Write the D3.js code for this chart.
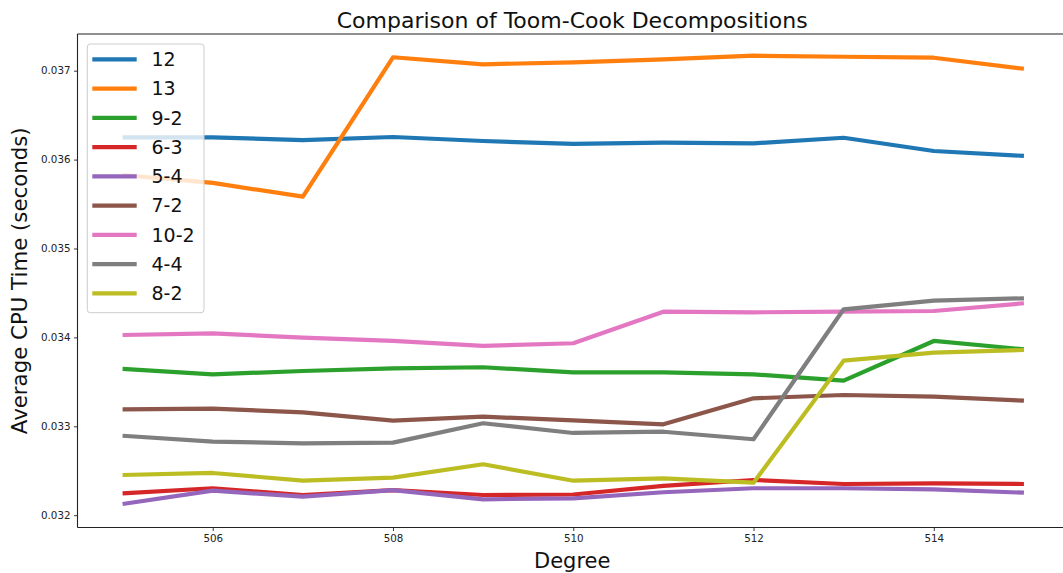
<!DOCTYPE html>
<html><head><meta charset="utf-8">
<script src="https://cdn.jsdelivr.net/npm/d3@7"></script>
<style>
html,body{margin:0;padding:0;background:#fff;overflow:hidden;}
svg{display:block;font-family:"DejaVu Sans",sans-serif;}
</style></head>
<body>
<svg id="chart" width="1063" height="573"></svg>
<script>
const degrees = [505, 506, 507, 508, 509, 510, 511, 512, 513, 514, 515];
const seriesNames = ["12", "13", "9-2", "6-3", "5-4", "7-2", "10-2", "4-4", "8-2"];
const s12  = [0.036251, 0.036250, 0.036220, 0.036254, 0.036209, 0.036176, 0.036190, 0.036183, 0.036246, 0.036097, 0.036041];
const s13  = [0.035827, 0.035738, 0.035583, 0.037151, 0.037072, 0.037094, 0.037128, 0.037169, 0.037157, 0.037146, 0.037022];
const s9_2 = [0.033645, 0.033585, 0.033622, 0.033652, 0.033664, 0.033607, 0.033607, 0.033585, 0.033513, 0.033960, 0.033866];
const s6_3 = [0.032246, 0.032303, 0.032227, 0.032283, 0.032227, 0.032233, 0.032329, 0.032396, 0.032351, 0.032359, 0.032351];
const s5_4 = [0.032126, 0.032276, 0.032208, 0.032283, 0.032179, 0.032190, 0.032258, 0.032303, 0.032303, 0.032291, 0.032253];
const s7_2 = [0.033191, 0.033198, 0.033157, 0.033063, 0.033108, 0.033067, 0.033022, 0.033315, 0.033352, 0.033333, 0.033288];
const s10_2= [0.034027, 0.034046, 0.033997, 0.033960, 0.033904, 0.033934, 0.034289, 0.034282, 0.034289, 0.034297, 0.034384];
const s4_4 = [0.032894, 0.032827, 0.032809, 0.032816, 0.033034, 0.032925, 0.032939, 0.032854, 0.034316, 0.034413, 0.034440];
const s8_2 = [0.032452, 0.032475, 0.032388, 0.032422, 0.032573, 0.032388, 0.032415, 0.032366, 0.033738, 0.033828, 0.033858];
const seriesValues = [s12, s13, s9_2, s6_3, s5_4, s7_2, s10_2, s4_4, s8_2];
const colors = ["#1f77b4", "#ff7f0e", "#2ca02c", "#d62728", "#9467bd", "#8c564b", "#e377c2", "#7f7f7f", "#bcbd22"];
const xTicks = [506, 508, 510, 512, 514];
const yTicks = [0.032, 0.033, 0.034, 0.035, 0.036, 0.037];
const titleText = "Comparison of Toom-Cook Decompositions";
const xLabel = "Degree";
const yLabel = "Average CPU Time (seconds)";

const svg = d3.select("#chart");
const plot = {left: 77.5, right: 1069, top: 34, bottom: 527.5};

const x = d3.scaleLinear().domain([504.5, 515.5]).range([plot.left, plot.right]);
const y = d3.scaleLinear().domain([0.032, 0.037]).range([515.2, 70.7]);

svg.append("defs").append("clipPath").attr("id", "clip")
  .append("rect").attr("x", plot.left).attr("y", plot.top)
  .attr("width", plot.right - plot.left).attr("height", plot.bottom - plot.top);

// lines
const line = d3.line().x((d, i) => x(degrees[i])).y(d => y(d));
const g = svg.append("g").attr("clip-path", "url(#clip)");
seriesValues.forEach((vals, k) => {
  g.append("path").datum(vals)
    .attr("d", line)
    .attr("fill", "none")
    .attr("stroke", colors[k])
    .attr("stroke-width", 4.2)
    .attr("stroke-linejoin", "round")
    .attr("stroke-linecap", "butt");
});

// spines
const sp = svg.append("g").attr("stroke", "#222").attr("stroke-width", 1.1).attr("fill", "none");
sp.append("line").attr("x1", plot.left).attr("x2", plot.left).attr("y1", plot.top).attr("y2", plot.bottom);
sp.append("line").attr("x1", plot.left).attr("x2", plot.right).attr("y1", plot.bottom).attr("y2", plot.bottom);
sp.append("line").attr("x1", plot.left).attr("x2", plot.right).attr("y1", plot.top).attr("y2", plot.top);
sp.append("line").attr("x1", plot.right).attr("x2", plot.right).attr("y1", plot.top).attr("y2", plot.bottom);

// axes
const xAxis = d3.axisBottom(x).tickValues(xTicks).tickFormat(d3.format("d")).tickSize(3.5).tickPadding(3.5);
const xg = svg.append("g").attr("transform", `translate(0,${plot.bottom})`).call(xAxis);
const yAxis = d3.axisLeft(y).tickValues(yTicks).tickFormat(d3.format(".3f")).tickSize(3.5).tickPadding(3.5);
const yg = svg.append("g").attr("transform", `translate(${plot.left},0)`).call(yAxis);
[xg, yg].forEach(a => {
  a.select(".domain").remove();
  a.selectAll(".tick line").attr("stroke", "#222").attr("stroke-width", 0.9);
  a.selectAll(".tick text").attr("fill", "#222").style("font-size", "10.3px").style("font-family", "DejaVu Sans");
});

// title & labels
svg.append("text").attr("x", (plot.left + plot.right) / 2 - 1).attr("y", 28)
  .attr("text-anchor", "middle").style("font-size", "22px").attr("fill", "#111").text(titleText);
svg.append("text").attr("x", (plot.left + plot.right) / 2 - 1).attr("y", 568)
  .attr("text-anchor", "middle").style("font-size", "21px").attr("fill", "#111").text(xLabel);
svg.append("text").attr("transform", `translate(27,${(plot.top + plot.bottom) / 2}) rotate(-90)`)
  .attr("text-anchor", "middle").style("font-size", "21.3px").attr("fill", "#111").text(yLabel);

// legend
const lg = svg.append("g");
lg.append("rect").attr("x", 87.3).attr("y", 44).attr("width", 116.7).attr("height", 268.7)
  .attr("rx", 3).attr("ry", 3)
  .attr("fill", "#fff").attr("fill-opacity", 0.8)
  .attr("stroke", "#ccc").attr("stroke-width", 1);
const step = 29.25;
seriesNames.forEach((name, k) => {
  const cy = 59.3 + k * step;
  lg.append("line").attr("x1", 92.3).attr("x2", 136.7).attr("y1", cy).attr("y2", cy)
    .attr("stroke", colors[k]).attr("stroke-width", 4.2);
  lg.append("text").attr("x", 151.5).attr("y", cy + 6.8)
    .style("font-size", "19px").attr("fill", "#111").text(name);
});
</script>
</body></html>
